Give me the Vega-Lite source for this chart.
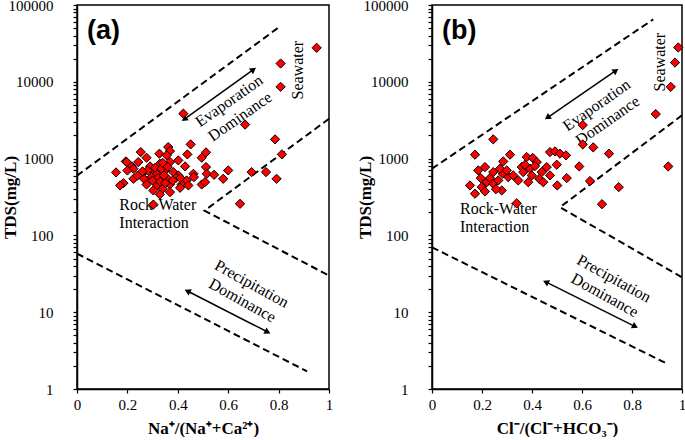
{
  "$schema": "https://vega.github.io/schema/vega-lite/v6.json",
  "padding": {"left": 0, "top": -3, "right": 0, "bottom": 0},
  "background": "white",
  "bounds": "flush",
  "spacing": 103,
  "datasets": {
    "one": [{}],
    "ptsA": [
      {"x":0.422,"tds":3850},{"x":0.667,"tds":2770},{"x":0.808,"tds":17300},{"x":0.808,"tds":8600},{"x":0.786,"tds":1780},{"x":0.813,"tds":1135},{"x":0.693,"tds":667},{"x":0.75,"tds":667},{"x":0.792,"tds":546},{"x":0.647,"tds":258},{"x":0.951,"tds":27700},{"x":0.6,"tds":702},{"x":0.58,"tds":546},
      {"x":0.451,"tds":1531},{"x":0.362,"tds":1413},
      {"x":0.253,"tds":1216},{"x":0.327,"tds":1158},{"x":0.369,"tds":1253},{"x":0.438,"tds":1135},{"x":0.512,"tds":1205},{"x":0.276,"tds":1026},{"x":0.356,"tds":1102},{"x":0.495,"tds":1026},
      {"x":0.194,"tds":919},{"x":0.243,"tds":901},{"x":0.217,"tds":791},{"x":0.29,"tds":791},{"x":0.329,"tds":857},{"x":0.369,"tds":901},{"x":0.402,"tds":948},{"x":0.429,"tds":791},{"x":0.512,"tds":776},
      {"x":0.155,"tds":661},{"x":0.224,"tds":738},{"x":0.257,"tds":634},{"x":0.303,"tds":702},{"x":0.316,"tds":634},{"x":0.349,"tds":702},{"x":0.382,"tds":667},{"x":0.402,"tds":604},{"x":0.462,"tds":634},{"x":0.515,"tds":634},{"x":0.544,"tds":615},
      {"x":0.184,"tds":479},{"x":0.224,"tds":546},{"x":0.266,"tds":546},{"x":0.296,"tds":574},{"x":0.323,"tds":562},{"x":0.356,"tds":562},{"x":0.393,"tds":562},{"x":0.435,"tds":519},{"x":0.464,"tds":574},
      {"x":0.171,"tds":447},{"x":0.276,"tds":460},{"x":0.319,"tds":447},{"x":0.369,"tds":460},{"x":0.415,"tds":460},{"x":0.442,"tds":447},{"x":0.495,"tds":460},{"x":0.508,"tds":494},
      {"x":0.303,"tds":385},{"x":0.34,"tds":405},{"x":0.369,"tds":366},{"x":0.329,"tds":341},{"x":0.409,"tds":417},
      {"x":0.303,"tds":252},
      {"x":0.28,"tds":700},{"x":0.31,"tds":760},{"x":0.335,"tds":740},{"x":0.345,"tds":600},{"x":0.36,"tds":780},{"x":0.3,"tds":520},{"x":0.26,"tds":680},{"x":0.24,"tds":600},{"x":0.33,"tds":500},{"x":0.35,"tds":480},{"x":0.2,"tds":700},{"x":0.38,"tds":520},{"x":0.41,"tds":560},{"x":0.34,"tds":880},{"x":0.197,"tds":900}
    ],
    "ptsB": [
      {"x":0.985,"tds":28000},{"x":0.972,"tds":17800},{"x":0.955,"tds":8600},{"x":0.895,"tds":3800},{"x":0.945,"tds":790},{"x":0.603,"tds":2730},{"x":0.603,"tds":1530},{"x":0.645,"tds":1400},{"x":0.708,"tds":1160},{"x":0.589,"tds":790},{"x":0.632,"tds":510},{"x":0.747,"tds":425},{"x":0.68,"tds":255},
      {"x":0.245,"tds":1783},{"x":0.172,"tds":1124},{"x":0.312,"tds":1124},{"x":0.285,"tds":919},
      {"x":0.472,"tds":1216},{"x":0.492,"tds":1240},{"x":0.512,"tds":1158},{"x":0.536,"tds":1102},
      {"x":0.379,"tds":1047},{"x":0.403,"tds":1020},{"x":0.419,"tds":901},{"x":0.359,"tds":775},{"x":0.459,"tds":775},{"x":0.499,"tds":832},
      {"x":0.212,"tds":775},{"x":0.185,"tds":702},{"x":0.245,"tds":667},{"x":0.283,"tds":635},{"x":0.305,"tds":574},{"x":0.365,"tds":667},{"x":0.392,"tds":738},{"x":0.399,"tds":604},{"x":0.439,"tds":667},{"x":0.429,"tds":546},{"x":0.445,"tds":493},{"x":0.472,"tds":604},{"x":0.501,"tds":447},{"x":0.539,"tds":557},
      {"x":0.152,"tds":447},{"x":0.172,"tds":349},{"x":0.199,"tds":425},{"x":0.219,"tds":493},{"x":0.232,"tds":557},{"x":0.245,"tds":470},{"x":0.265,"tds":520},{"x":0.279,"tds":385},{"x":0.256,"tds":400},{"x":0.212,"tds":373},{"x":0.325,"tds":604},{"x":0.345,"tds":520},{"x":0.195,"tds":557},{"x":0.272,"tds":738},
      {"x":0.339,"tds":262},{"x":0.385,"tds":493},{"x":0.412,"tds":800},{"x":0.372,"tds":830},{"x":0.299,"tds":702}
    ],
    "linesA": [
      {"seg":"upper","o":0,"x":0,"tds":600},{"seg":"upper","o":1,"x":0.8,"tds":51000},
      {"seg":"right","o":0,"x":1,"tds":3300},{"seg":"right","o":1,"x":0.506,"tds":210},{"seg":"right","o":2,"x":1,"tds":30},
      {"seg":"lower","o":0,"x":0,"tds":58},{"seg":"lower","o":1,"x":0.913,"tds":1.7}
    ],
    "linesB": [
      {"seg":"upper","o":0,"x":0,"tds":740},{"seg":"upper","o":1,"x":0.885,"tds":65000},
      {"seg":"right","o":0,"x":1,"tds":3660},{"seg":"right","o":1,"x":0.512,"tds":233},{"seg":"right","o":2,"x":1,"tds":28.5},
      {"seg":"lower","o":0,"x":0,"tds":70},{"seg":"lower","o":1,"x":0.932,"tds":2.2}
    ]
  },
  "hconcat": [
    {
      "width": 252, "height": 384,
      "layer": [
        {
          "data": {"name": "linesA"},
          "mark": {"type": "line", "color": "black", "strokeDash": [7, 4], "strokeWidth": 2},
          "encoding": {
            "x": {"field": "x", "type": "quantitative", "scale": {"domain": [0, 1], "nice": false},
              "axis": {"title": "Na⁺/(Na⁺+Ca²⁺)", "values": [0, 0.2, 0.4, 0.6, 0.8, 1], "format": "~g", "labelFlush": false, "tickSize": 4, "labelPadding": 4, "titlePadding": 8}},
            "y": {"field": "tds", "type": "quantitative", "scale": {"type": "log", "domain": [1, 100000], "nice": false},
              "axis": {"title": "TDS(mg/L)", "values": [1,2,3,4,5,6,7,8,9,10,20,30,40,50,60,70,80,90,100,200,300,400,500,600,700,800,900,1000,2000,3000,4000,5000,6000,7000,8000,9000,10000,20000,30000,40000,50000,60000,70000,80000,90000,100000],
                "labelExpr": "indexof([1,10,100,1000,10000,100000], datum.value) >= 0 ? format(datum.value, 'd') : ''",
                "tickSize": 4,
                "labelPadding": 20, "labelOverlap": false, "titlePadding": 0, "minExtent": 58, "maxExtent": 58}},
            "detail": {"field": "seg"},
            "order": {"field": "o"}
          }
        },
        {"data": {"name": "one"}, "mark": {"type": "text", "text": "(a)", "font": "Liberation Sans", "fontWeight": "bold", "fontSize": 27, "align": "left", "baseline": "middle"},
         "encoding": {"x": {"datum": 0.04}, "y": {"datum": 45700}}},
        {"data": {"name": "one"}, "mark": {"type": "text", "text": "Evaporation\nDominance", "lineBreak": "\n", "lineHeight": 19, "angle": -35, "font": "Liberation Serif", "fontSize": 16, "align": "center", "baseline": "middle"},
         "encoding": {"x": {"datum": 0.604}, "y": {"datum": 5610}}},
        {"data": {"name": "one"}, "mark": {"type": "text", "text": "Precipitation\nDominance", "lineBreak": "\n", "lineHeight": 19, "angle": 29, "font": "Liberation Serif", "fontSize": 16, "align": "center", "baseline": "middle"},
         "encoding": {"x": {"datum": 0.693}, "y": {"datum": 23.3}}},
        {"data": {"name": "one"}, "mark": {"type": "text", "text": "Seawater", "angle": -90, "font": "Liberation Serif", "fontSize": 16, "align": "center", "baseline": "middle"},
         "encoding": {"x": {"datum": 0.875}, "y": {"datum": 14170}}},
        {"data": {"name": "one"}, "mark": {"type": "text", "text": "Rock-Water\nInteraction", "lineBreak": "\n", "lineHeight": 18, "font": "Liberation Serif", "fontSize": 16, "align": "left", "baseline": "middle"},
         "encoding": {"x": {"datum": 0.168}, "y": {"datum": 252}}},
        {"data": {"name": "one"}, "mark": {"type": "rule", "color": "black", "strokeWidth": 1.5},
         "encoding": {"x": {"datum": 0.429}, "y": {"datum": 3320}, "x2": {"datum": 0.697}, "y2": {"datum": 14170}}},
        {"data": {"name": "one"}, "mark": {"type": "rule", "color": "black", "strokeWidth": 1.5},
         "encoding": {"x": {"datum": 0.442}, "y": {"datum": 18.6}, "x2": {"datum": 0.753}, "y2": {"datum": 5.6}}},
        {"data": {"name": "one"}, "mark": {"type": "point", "shape": "triangle", "filled": true, "color": "black", "size": 50, "opacity": 1, "angle": 234.5},
         "encoding": {"x": {"datum": 0.429}, "y": {"datum": 3320}}},
        {"data": {"name": "one"}, "mark": {"type": "point", "shape": "triangle", "filled": true, "color": "black", "size": 50, "opacity": 1, "angle": 54.5},
         "encoding": {"x": {"datum": 0.697}, "y": {"datum": 14170}}},
        {"data": {"name": "one"}, "mark": {"type": "point", "shape": "triangle", "filled": true, "color": "black", "size": 50, "opacity": 1, "angle": 297},
         "encoding": {"x": {"datum": 0.442}, "y": {"datum": 18.6}}},
        {"data": {"name": "one"}, "mark": {"type": "point", "shape": "triangle", "filled": true, "color": "black", "size": 50, "opacity": 1, "angle": 117},
         "encoding": {"x": {"datum": 0.753}, "y": {"datum": 5.6}}},
        {
          "data": {"name": "ptsA"},
          "mark": {"type": "point", "shape": "diamond", "filled": true, "fill": "#FF0000", "stroke": "black", "strokeWidth": 1, "size": 85, "opacity": 1},
          "encoding": {"x": {"field": "x", "type": "quantitative"}, "y": {"field": "tds", "type": "quantitative"}}
        }
      ]
    },
    {
      "width": 250, "height": 384,
      "layer": [
        {
          "data": {"name": "linesB"},
          "mark": {"type": "line", "color": "black", "strokeDash": [7, 4], "strokeWidth": 2},
          "encoding": {
            "x": {"field": "x", "type": "quantitative", "scale": {"domain": [0, 1], "nice": false},
              "axis": {"title": "Cl⁻/(Cl⁻+HCO₃⁻)", "values": [0, 0.2, 0.4, 0.6, 0.8, 1], "format": "~g", "labelFlush": false, "tickSize": 4, "labelPadding": 4, "titlePadding": 8}},
            "y": {"field": "tds", "type": "quantitative", "scale": {"type": "log", "domain": [1, 100000], "nice": false},
              "axis": {"title": "TDS(mg/L)", "values": [1,2,3,4,5,6,7,8,9,10,20,30,40,50,60,70,80,90,100,200,300,400,500,600,700,800,900,1000,2000,3000,4000,5000,6000,7000,8000,9000,10000,20000,30000,40000,50000,60000,70000,80000,90000,100000],
                "labelExpr": "indexof([1,10,100,1000,10000,100000], datum.value) >= 0 ? format(datum.value, 'd') : ''",
                "tickSize": 4,
                "labelPadding": 20, "labelOverlap": false, "titlePadding": 0, "minExtent": 58, "maxExtent": 58}},
            "detail": {"field": "seg"},
            "order": {"field": "o"}
          }
        },
        {"data": {"name": "one"}, "mark": {"type": "text", "text": "(b)", "font": "Liberation Sans", "fontWeight": "bold", "fontSize": 27, "align": "left", "baseline": "middle"},
         "encoding": {"x": {"datum": 0.04}, "y": {"datum": 45700}}},
        {"data": {"name": "one"}, "mark": {"type": "text", "text": "Evaporation\nDominance", "lineBreak": "\n", "lineHeight": 19, "angle": -35, "font": "Liberation Serif", "fontSize": 16, "align": "center", "baseline": "middle"},
         "encoding": {"x": {"datum": 0.659}, "y": {"datum": 4960}}},
        {"data": {"name": "one"}, "mark": {"type": "text", "text": "Precipitation\nDominance", "lineBreak": "\n", "lineHeight": 19, "angle": 29, "font": "Liberation Serif", "fontSize": 16, "align": "center", "baseline": "middle"},
         "encoding": {"x": {"datum": 0.728}, "y": {"datum": 27.3}}},
        {"data": {"name": "one"}, "mark": {"type": "text", "text": "Seawater", "angle": -90, "font": "Liberation Serif", "fontSize": 16, "align": "center", "baseline": "middle"},
         "encoding": {"x": {"datum": 0.912}, "y": {"datum": 18000}}},
        {"data": {"name": "one"}, "mark": {"type": "text", "text": "Rock-Water\nInteraction", "lineBreak": "\n", "lineHeight": 18, "font": "Liberation Serif", "fontSize": 16, "align": "left", "baseline": "middle"},
         "encoding": {"x": {"datum": 0.112}, "y": {"datum": 224}}},
        {"data": {"name": "one"}, "mark": {"type": "rule", "color": "black", "strokeWidth": 1.5},
         "encoding": {"x": {"datum": 0.465}, "y": {"datum": 3480}, "x2": {"datum": 0.732}, "y2": {"datum": 13740}}},
        {"data": {"name": "one"}, "mark": {"type": "rule", "color": "black", "strokeWidth": 1.5},
         "encoding": {"x": {"datum": 0.459}, "y": {"datum": 24.4}, "x2": {"datum": 0.809}, "y2": {"datum": 6.6}}},
        {"data": {"name": "one"}, "mark": {"type": "point", "shape": "triangle", "filled": true, "color": "black", "size": 50, "opacity": 1, "angle": 235.6},
         "encoding": {"x": {"datum": 0.465}, "y": {"datum": 3480}}},
        {"data": {"name": "one"}, "mark": {"type": "point", "shape": "triangle", "filled": true, "color": "black", "size": 50, "opacity": 1, "angle": 55.6},
         "encoding": {"x": {"datum": 0.732}, "y": {"datum": 13740}}},
        {"data": {"name": "one"}, "mark": {"type": "point", "shape": "triangle", "filled": true, "color": "black", "size": 50, "opacity": 1, "angle": 296.3},
         "encoding": {"x": {"datum": 0.459}, "y": {"datum": 24.4}}},
        {"data": {"name": "one"}, "mark": {"type": "point", "shape": "triangle", "filled": true, "color": "black", "size": 50, "opacity": 1, "angle": 116.3},
         "encoding": {"x": {"datum": 0.809}, "y": {"datum": 6.6}}},
        {
          "data": {"name": "ptsB"},
          "mark": {"type": "point", "shape": "diamond", "filled": true, "fill": "#FF0000", "stroke": "black", "strokeWidth": 1, "size": 85, "opacity": 1},
          "encoding": {"x": {"field": "x", "type": "quantitative"}, "y": {"field": "tds", "type": "quantitative"}}
        }
      ]
    }
  ],
  "config": {
    "view": {"stroke": "black", "strokeWidth": 1.5},
    "axis": {"grid": false, "domainColor": "black", "domainWidth": 1.5, "tickColor": "black", "tickWidth": 1.2, "labelColor": "black", "titleColor": "black",
      "labelFont": "Liberation Serif", "titleFont": "Liberation Serif", "labelFontSize": 15, "titleFontSize": 17, "titleFontWeight": "bold"}
  }
}
